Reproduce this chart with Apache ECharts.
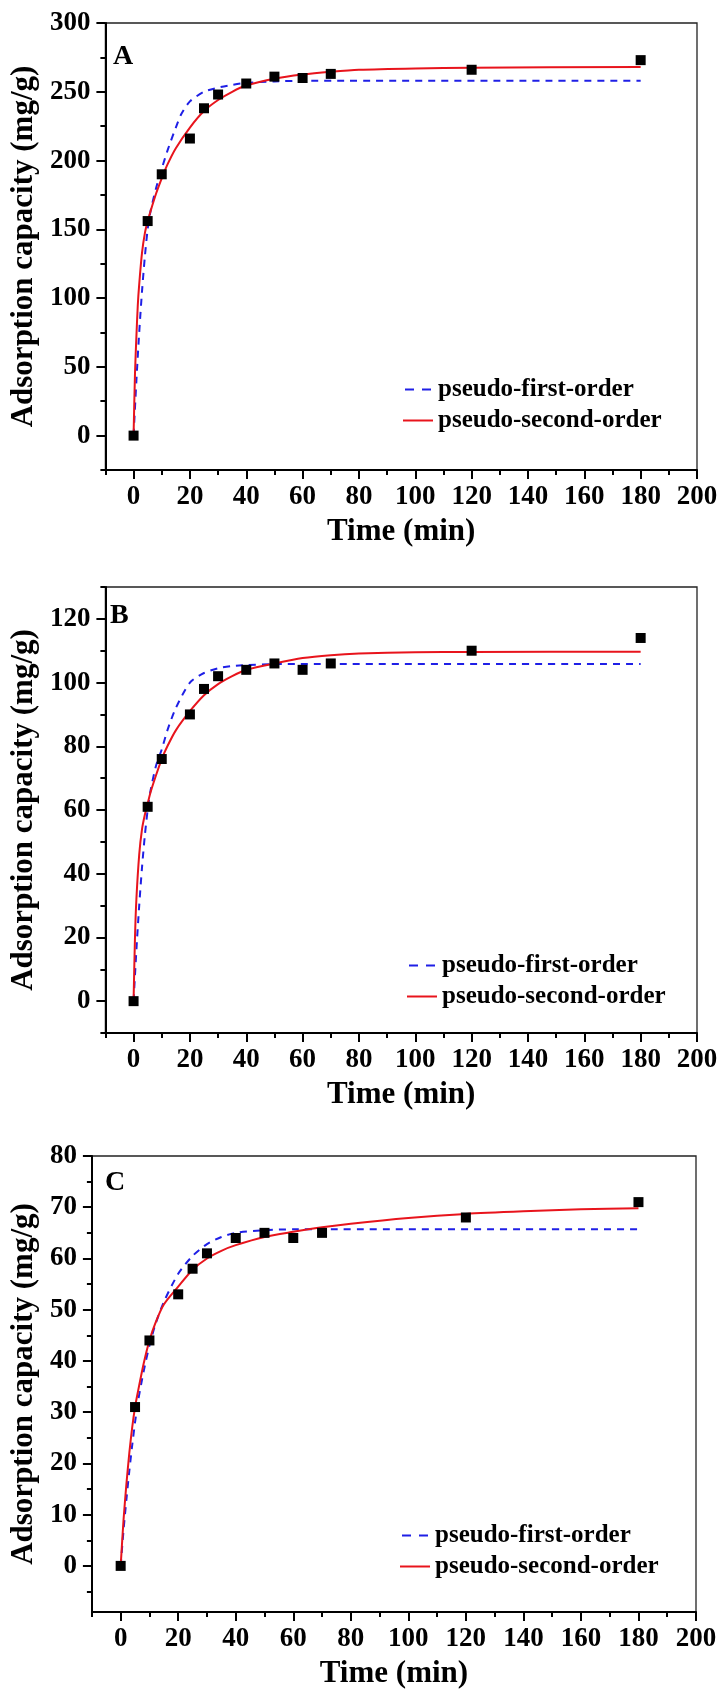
<!DOCTYPE html>
<html>
<head>
<meta charset="utf-8">
<script src="https://cdn.jsdelivr.net/npm/echarts@6/dist/echarts.min.js"></script>
<style>
html,body{margin:0;padding:0;background:#fff;}
#chart{width:727px;height:1692px;}
</style>
</head>
<body>
<div id="chart"></div>
<script>
// ---------- data ----------
const expTime = [0, 5, 10, 20, 25, 30, 40, 50, 60, 70, 120, 180];
const expA = [0, 156, 190, 216, 238, 248, 256, 261, 260, 263, 266, 273];
const expB = [0, 61, 76, 90, 98, 102, 104, 106, 104, 106, 110, 114];
const expC = [0, 31, 44, 53, 58, 61, 64, 65, 64, 65, 68, 71];

const pfoTimeA = [0, 1, 2, 3, 4, 5, 6, 8, 10, 12, 15, 17, 20, 25, 30, 35, 40, 50, 60, 180];
const pfoA = [0, 40, 75, 105, 130, 150, 163, 180, 194, 207, 224, 234, 243, 250, 253, 255, 256.5, 257.5, 258, 258];
const psoTimeA = [0, 0.5, 1, 1.5, 2, 3, 4, 5, 6, 8, 10, 12, 15, 20, 25, 30, 35, 40, 50, 60, 70, 80, 100, 120, 180];
const psoA = [0, 45, 72, 95, 110, 133, 147, 156, 163, 176, 187, 197, 209, 224, 236, 244, 250, 254.5, 259.5, 262.5, 264.5, 266, 267, 267.5, 268];

const pfoTimeB = [0, 1, 2, 3, 4, 5, 6, 8, 10, 12, 15, 20, 25, 30, 35, 40, 50, 180];
const pfoB = [0, 16, 30, 42, 52, 60, 66, 74, 79, 85, 92, 100, 103, 104.5, 105.2, 105.5, 105.8, 105.8];
const psoTimeB = [0, 0.5, 1, 2, 3, 4, 5, 6, 8, 10, 12, 15, 20, 25, 30, 35, 40, 50, 60, 70, 80, 100, 120, 180];
const psoB = [0, 20, 32, 46, 54, 58.5, 62, 65.5, 71, 76, 80, 85, 91, 96, 99.5, 102, 104, 106, 107.7, 108.6, 109.1, 109.5, 109.6, 109.7];

const pfoTimeC = [0, 1, 2, 3, 4, 5, 6, 8, 10, 12, 15, 20, 25, 30, 35, 40, 50, 60, 180];
const pfoC = [0, 7, 13, 18.5, 23.5, 28, 32, 38, 43, 47, 51.5, 57, 60.5, 62.8, 64.2, 65, 65.5, 65.7, 65.7];
const psoTimeC = [0, 1, 2, 3, 4, 5, 6, 8, 10, 12, 15, 20, 25, 30, 35, 40, 50, 60, 70, 80, 100, 120, 140, 160, 180];
const psoC = [0, 9, 16, 22, 27, 31, 34, 39.5, 44, 47.3, 51, 54.5, 57.8, 60, 61.5, 62.6, 64.2, 65.2, 66.1, 66.8, 67.9, 68.7, 69.2, 69.6, 69.8];

const xMajorTicks = [0, 20, 40, 60, 80, 100, 120, 140, 160, 180, 200];
const xMinorTicks = [-10, 10, 30, 50, 70, 90, 110, 130, 150, 170, 190];
const yMajorA = [0, 50, 100, 150, 200, 250, 300];
const yMinorA = [-25, 25, 75, 125, 175, 225, 275];
const yMajorB = [0, 20, 40, 60, 80, 100, 120];
const yMinorB = [-10, 10, 30, 50, 70, 90, 110, 130];
const yMajorC = [0, 10, 20, 30, 40, 50, 60, 70, 80];
const yMinorC = [-5, 5, 15, 25, 35, 45, 55, 65, 75];

const panelLetters = ['A', 'B', 'C'];
const seriesNames = ['pseudo-first-order', 'pseudo-second-order'];
const xTitle = 'Time (min)';
const yTitle = 'Adsorption capacity (mg/g)';

// ---------- layout ----------
const FONT = '"Liberation Serif", "Times New Roman", serif';
const panels = [
  { grid: {left: 95, top: 23, width: 602, height: 447}, yMin: -25, yMax: 300, yMajor: yMajorA, yMinor: yMinorA,
    exp: expA, pfoT: pfoTimeA, pfo: pfoA, psoT: psoTimeA, pso: psoA,
    legend: {left: 403, top: 377}, letter: {left: 113, top: 43}, yGap: 58, xGap: 46 },
  { grid: {left: 95, top: 587, width: 602, height: 446}, yMin: -10, yMax: 130, yMajor: yMajorB, yMinor: yMinorB,
    exp: expB, pfoT: pfoTimeB, pfo: pfoB, psoT: psoTimeB, pso: psoB,
    legend: {left: 407, top: 953}, letter: {left: 110, top: 602}, yGap: 58, xGap: 46 },
  { grid: {left: 85, top: 1156, width: 611, height: 456}, yMin: -9, yMax: 80, yMajor: yMajorC, yMinor: yMinorC,
    exp: expC, pfoT: pfoTimeC, pfo: pfoC, psoT: psoTimeC, pso: psoC,
    legend: {left: 400, top: 1523}, letter: {left: 105, top: 1169}, yGap: 48, xGap: 46 }
];

const zip = (a, b) => a.map((v, i) => [v, b[i]]);
const axisLine = {onZero: false, lineStyle: {color: '#000', width: 2}};
const tickStyle = {color: '#000', width: 2};
const labelStyle = {fontSize: 27, fontWeight: 'bold', fontFamily: FONT, color: '#000'};
const nameStyle = {fontSize: 31, fontWeight: 'bold', fontFamily: FONT, color: '#000'};
const iconDash = 'path://M0 0H9V2H0Z M17 0H26V2H17Z';
const iconSolid = 'path://M0 0H30V2H0Z';

const option = {
  animation: false,
  backgroundColor: '#fff',
  grid: [], xAxis: [], yAxis: [], series: [], legend: [], graphic: []
};

panels.forEach((p, i) => {
  option.grid.push(Object.assign({show: true, borderColor: '#222', borderWidth: 1.3, containLabel: false}, p.grid));
  option.xAxis.push({
    gridIndex: i, type: 'value', min: -10, max: 200, position: 'bottom',
    axisLine: axisLine,
    axisTick: {customValues: xMajorTicks, length: 9, lineStyle: tickStyle},
    axisLabel: Object.assign({customValues: xMajorTicks, margin: 14}, labelStyle),
    splitLine: {show: false},
    name: xTitle, nameLocation: 'middle', nameGap: p.xGap, nameTextStyle: nameStyle
  });
  option.xAxis.push({
    gridIndex: i, type: 'value', min: -10, max: 200, position: 'bottom',
    axisLine: {show: false, onZero: false},
    axisTick: {customValues: xMinorTicks, length: 5, lineStyle: tickStyle},
    axisLabel: {show: false}, splitLine: {show: false}
  });
  option.yAxis.push({
    gridIndex: i, type: 'value', min: p.yMin, max: p.yMax, position: 'left',
    axisLine: axisLine,
    axisTick: {customValues: p.yMajor, length: 9, lineStyle: tickStyle},
    axisLabel: Object.assign({customValues: p.yMajor, margin: 15}, labelStyle),
    splitLine: {show: false},
    name: yTitle, nameLocation: 'middle', nameGap: p.yGap, nameTextStyle: nameStyle
  });
  option.yAxis.push({
    gridIndex: i, type: 'value', min: p.yMin, max: p.yMax, position: 'left',
    axisLine: {show: false, onZero: false},
    axisTick: {customValues: p.yMinor, length: 5, lineStyle: tickStyle},
    axisLabel: {show: false}, splitLine: {show: false}
  });
  option.series.push({
    name: seriesNames[0], type: 'line', xAxisIndex: 2 * i, yAxisIndex: 2 * i,
    data: zip(p.pfoT, p.pfo), symbol: 'none', smooth: 0.25,
    lineStyle: {color: '#1f1fe6', width: 2, type: [7, 6]}, itemStyle: {color: '#1f1fe6'}, z: 2
  });
  option.series.push({
    name: seriesNames[1], type: 'line', xAxisIndex: 2 * i, yAxisIndex: 2 * i,
    data: zip(p.psoT, p.pso), symbol: 'none', smooth: 0.25,
    lineStyle: {color: '#e8141c', width: 2}, itemStyle: {color: '#e8141c'}, z: 2
  });
  option.series.push({
    name: 'experimental', type: 'scatter', xAxisIndex: 2 * i, yAxisIndex: 2 * i,
    data: zip(expTime, p.exp), symbol: 'rect', symbolSize: 10,
    itemStyle: {color: '#000', opacity: 1}, z: 3
  });
  option.legend.push({
    data: [{name: seriesNames[0], icon: iconDash}, {name: seriesNames[1], icon: iconSolid}],
    orient: 'vertical', left: p.legend.left, top: p.legend.top,
    itemWidth: 30, itemHeight: 2, itemGap: 6, padding: 0, selectedMode: false,
    textStyle: {fontSize: 25, fontWeight: 'bold', fontFamily: FONT, color: '#000', lineHeight: 25}
  });
  option.graphic.push({
    type: 'text', left: p.letter.left, top: p.letter.top,
    style: {text: panelLetters[i], font: 'bold 28px ' + FONT, fill: '#000'}
  });
});

const chart = echarts.init(document.getElementById('chart'), null, {renderer: 'canvas'});
chart.setOption(option);
</script>
</body>
</html>
